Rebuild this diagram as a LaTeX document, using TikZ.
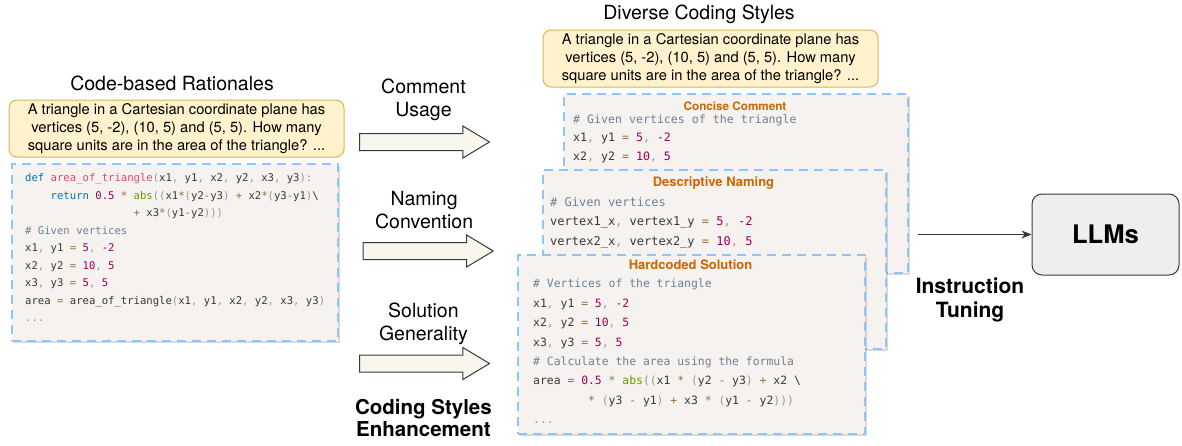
\documentclass[tikz,border=0pt]{standalone}
\usepackage{fontspec}
\setmainfont{TeX Gyre Heros}
\setmonofont{DejaVu Sans Mono}
\usetikzlibrary{positioning,shapes.arrows,shadows,arrows.meta}

\definecolor{qfill}{HTML}{FFF2CC}
\definecolor{qdraw}{HTML}{D6B656}
\definecolor{codebg}{HTML}{F5F2F0}
\definecolor{dashblue}{HTML}{8EC5FF}
\definecolor{arrowfill}{HTML}{F9F7ED}
\definecolor{darkline}{HTML}{36393D}
\definecolor{llmfill}{HTML}{EEEEEE}
\definecolor{titleorange}{HTML}{CC6600}
\definecolor{codeink}{HTML}{383838}
\definecolor{kwblue}{HTML}{0077AA}
\definecolor{fnpink}{HTML}{DD4A68}
\definecolor{numpurple}{HTML}{990055}
\definecolor{opbrown}{HTML}{9A6E3A}
\definecolor{cmtgray}{HTML}{708090}
\definecolor{pncgray}{HTML}{999999}
\definecolor{bltgreen}{HTML}{669900}

% code colouring
\newcommand{\kw}[1]{\textcolor{kwblue}{#1}}
\newcommand{\fnc}[1]{\textcolor{fnpink}{#1}}
\newcommand{\numb}[1]{\textcolor{numpurple}{#1}}
\newcommand{\opr}[1]{\textcolor{opbrown}{#1}}
\newcommand{\cmt}[1]{\textcolor{cmtgray}{#1}}
\newcommand{\pnc}[1]{\textcolor{pncgray}{#1}}
\newcommand{\blt}[1]{\textcolor{bltgreen}{#1}}

\tikzset{
 question/.style={draw=qdraw, fill=qfill, rounded corners=8pt, line width=1pt, align=center, inner sep=0pt, font=\fontsize{14.7}{18.2}\selectfont},
 codebox/.style={draw=dashblue, fill=codebg, line width=1.7pt, dash pattern=on 9pt off 6pt, anchor=north west, inner sep=0pt, drop shadow={shadow xshift=2pt, shadow yshift=-2.5pt, opacity=0.3}},
 codetext/.style={anchor=north west, inner sep=0pt, align=left, text=codeink},
 boxtitle/.style={anchor=base, inner sep=0pt, text=titleorange, font=\bfseries\fontsize{13}{15}\selectfont},
 blockarrow/.style={single arrow, anchor=tail, draw=darkline, fill=arrowfill, line width=1pt, minimum height=130pt, inner xsep=0pt, inner ysep=8pt, single arrow head extend=7.5pt, single arrow tip angle=62},
 steplabel/.style={align=center, inner sep=0pt, font=\fontsize{19.5}{22.7}\selectfont},
 heading/.style={anchor=base, inner sep=0pt, font=\fontsize{19.5}{22}\selectfont},
 llmbox/.style={draw=darkline, fill=llmfill, rounded corners=10pt, line width=1pt, minimum width=147pt, minimum height=81pt, font=\bfseries\fontsize{25.6}{30}\selectfont}
}

\begin{document}
\begin{tikzpicture}[x=1pt,y=-1pt]
 \useasboundingbox (0,0) rectangle (1182,445);

 % left: original rationale
 \node[heading] (rationaletitle) at (172,90) {Code-based Rationales};
 \node[question, minimum width=335pt, minimum height=57pt] (question1) at (176.5,128.5) {A triangle in a Cartesian coordinate plane has\\vertices (5, -2), (10, 5) and (5, 5). How many\\square units are in the area of the triangle? ...};
 \node[codebox, minimum width=326pt, minimum height=177pt] (rationale) at (11,163) {};
 \node[codetext, font=\ttfamily\fontsize{10.6}{17.5}\selectfont] (rationalecode) at (25,169.5) {\strut\kw{def} \fnc{area\_of\_triangle}\pnc{(}x1\pnc{,} y1\pnc{,} x2\pnc{,} y2\pnc{,} x3\pnc{,} y3\pnc{):}\\
~~~~\kw{return} \numb{0.5} \opr{*} \blt{abs}\pnc{((}x1\opr{*}\pnc{(}y2\opr{-}y3\pnc{)} \opr{+} x2\opr{*}\pnc{(}y3\opr{-}y1\pnc{)}\textbackslash\\
~~~~~~~~~~~~~~~~~\opr{+} x3\opr{*}\pnc{(}y1\opr{-}y2\pnc{)))}\\
\cmt{\# Given vertices}\\
x1\pnc{,} y1 \opr{=} \numb{5}\pnc{,} \numb{-2}\\
x2\pnc{,} y2 \opr{=} \numb{10}\pnc{,} \numb{5}\\
x3\pnc{,} y3 \opr{=} \numb{5}\pnc{,} \numb{5}\\
area \opr{=} area\_of\_triangle\pnc{(}x1\pnc{,} y1\pnc{,} x2\pnc{,} y2\pnc{,} x3\pnc{,} y3\pnc{)}\\
\pnc{...}};

 % middle: enhancement steps
 \node[blockarrow] (commentarrow) at (359,142) {};
 \node[blockarrow] (namingarrow) at (362.7,251) {};
 \node[blockarrow] (solutionarrow) at (359,363.5) {};
 \node[steplabel, above=12pt of commentarrow, xshift=6pt] (commentlabel) {Comment\\Usage};
 \node[steplabel, above=13pt of namingarrow, xshift=3pt] (naminglabel) {Naming\\Convention};
 \node[steplabel, above=10pt of solutionarrow, xshift=6pt] (solutionlabel) {Solution\\Generality};
 \node[steplabel, font=\bfseries\fontsize{20.5}{22}\selectfont, below=27pt of solutionarrow, xshift=6pt] (enhancement) {Coding Styles\\Enhancement};

 % right: diverse styles
 \node[heading] (stylestitle) at (699,19) {Diverse Coding Styles};
 \node[question, minimum width=335pt, minimum height=57pt] (question2) at (710.5,58.5) {A triangle in a Cartesian coordinate plane has\\vertices (5, -2), (10, 5) and (5, 5). How many\\square units are in the area of the triangle? ...};

 \node[codebox, minimum width=344pt, minimum height=179pt] (concise) at (563,93) {};
 \node[boxtitle, font=\bfseries\fontsize{11.7}{14}\selectfont] (concisetitle) at (735,110) {Concise Comment};
 \node[codetext, font=\ttfamily\fontsize{11.6}{18.6}\selectfont] (concisecode) at (573,110) {\strut\cmt{\# Given vertices of the triangle}\\
x1\pnc{,} y1 \opr{=} \numb{5}\pnc{,} \numb{-2}\\
x2\pnc{,} y2 \opr{=} \numb{10}\pnc{,} \numb{5}};

 \node[codebox, minimum width=343pt, minimum height=179pt] (descriptive) at (542,169) {};
 \node[boxtitle] (descriptivetitle) at (713.5,186.7) {Descriptive Naming};
 \node[codetext, font=\ttfamily\fontsize{12}{19.5}\selectfont] (descriptivecode) at (550,192.3) {\strut\cmt{\# Given vertices}\\
vertex1\_x\pnc{,} vertex1\_y \opr{=} \numb{5}\pnc{,} \numb{-2}\\
vertex2\_x\pnc{,} vertex2\_y \opr{=} \numb{10}\pnc{,} \numb{5}};

 \node[codebox, minimum width=347pt, minimum height=179pt] (hardcoded) at (517,254) {};
 \node[boxtitle] (hardcodedtitle) at (690.5,269.3) {Hardcoded Solution};
 \node[codetext, font=\ttfamily\fontsize{11.4}{19.4}\selectfont] (hardcodedcode) at (533,274.1) {\strut\cmt{\# Vertices of the triangle}\\
x1\pnc{,} y1 \opr{=} \numb{5}\pnc{,} \numb{-2}\\
x2\pnc{,} y2 \opr{=} \numb{10}\pnc{,} \numb{5}\\
x3\pnc{,} y3 \opr{=} \numb{5}\pnc{,} \numb{5}\\
\cmt{\# Calculate the area using the formula}\\
area \opr{=} \numb{0.5} \opr{*} \blt{abs}\pnc{((}x1 \opr{*} \pnc{(}y2 \opr{-} y3\pnc{)} \opr{+} x2 \textbackslash\\
~~~~~~~~\opr{*} \pnc{(}y3 \opr{-} y1\pnc{)} \opr{+} x3 \opr{*} \pnc{(}y1 \opr{-} y2\pnc{)))}\\
\pnc{...}};

 % instruction tuning
 \node[llmbox] (llms) at (1105.5,234.5) {LLMs};
 \coordinate (tunestart) at (918,234.5);
 \node[steplabel, font=\bfseries\fontsize{21}{24}\selectfont, anchor=north] (tuning) at (970,278) {Instruction\\Tuning};

 \path[draw] (tunestart) edge [-{Stealth[length=10pt,width=8pt]},line width=1pt,draw=darkline] (llms.west);
\end{tikzpicture}
\end{document}
